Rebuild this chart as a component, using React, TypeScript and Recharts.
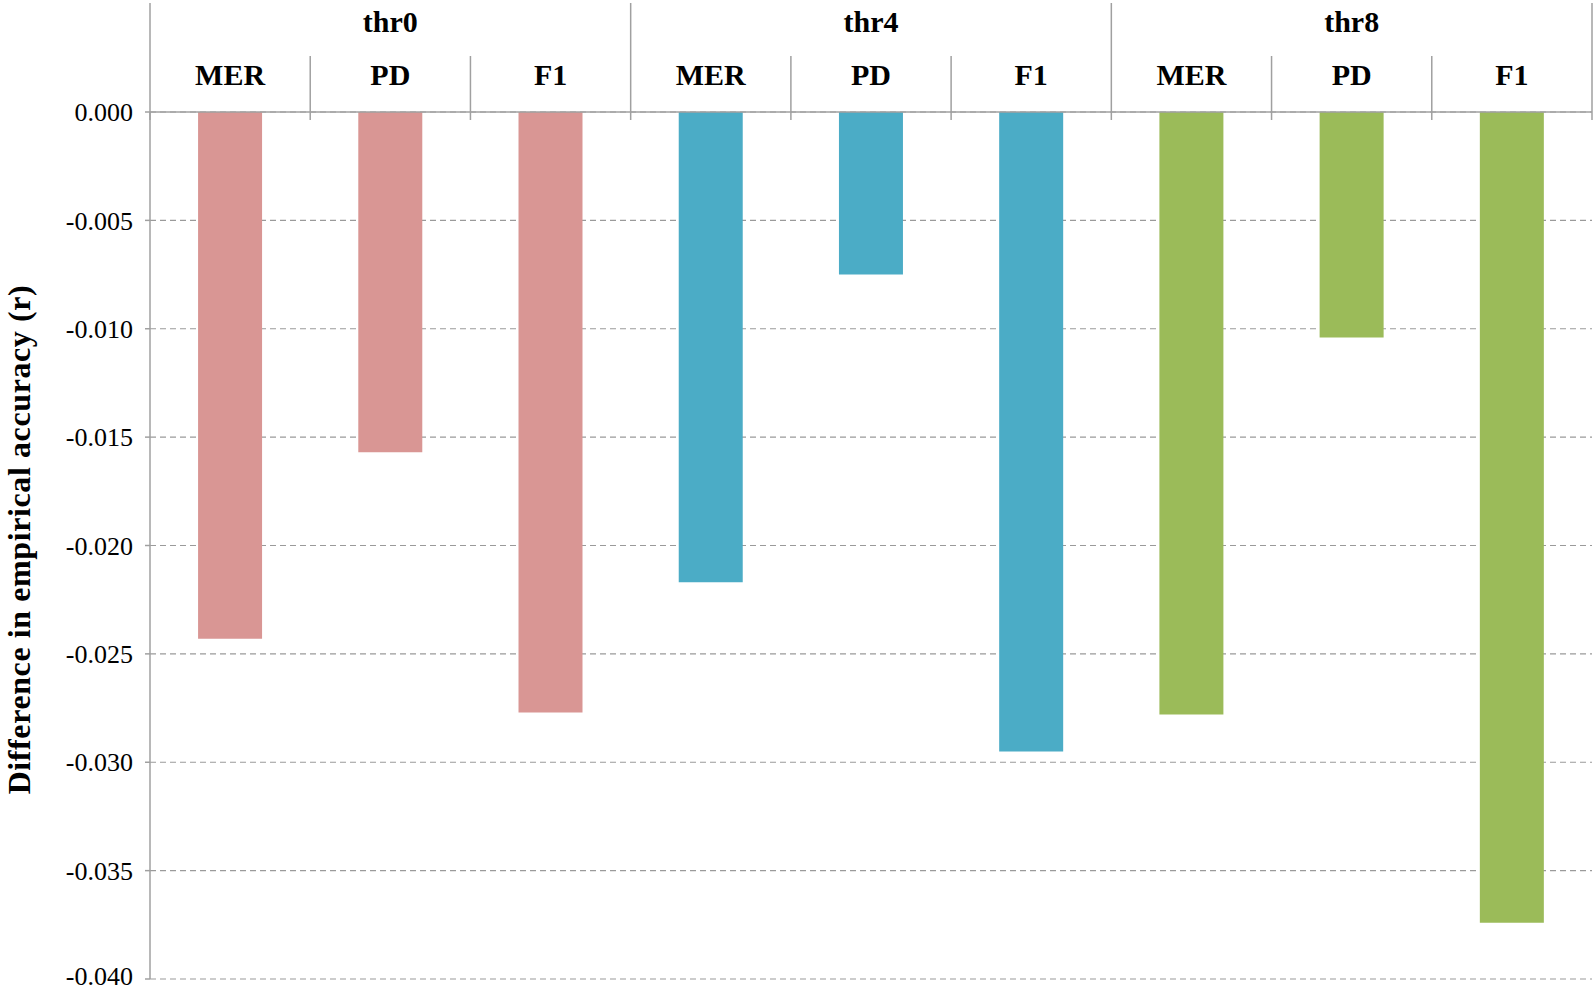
import React from 'react';
import { BarChart, Bar, XAxis, YAxis, CartesianGrid, Cell } from 'recharts';

const groups = ['thr0', 'thr4', 'thr8'];
const metrics = ['MER', 'PD', 'F1'];
const thr0Values = [-0.0243, -0.0157, -0.0277];
const thr4Values = [-0.0217, -0.0075, -0.0295];
const thr8Values = [-0.0278, -0.0104, -0.0374];
const groupColors = ['#D99694', '#4BACC6', '#9BBB59'];
const yTicks = [0, -0.005, -0.01, -0.015, -0.02, -0.025, -0.03, -0.035, -0.04];

const seriesByGroup = [thr0Values, thr4Values, thr8Values];

const data = groups.flatMap((group, g) =>
  metrics.map((metric, m) => ({
    key: `${group}-${metric}`,
    group,
    metric,
    value: seriesByGroup[g][m],
    color: groupColors[g],
  }))
);

const W = 1595;
const H = 991;
const MARGIN = { top: 3, right: 3, bottom: 12, left: 0 };
const Y_AXIS_W = 150;
const X_AXIS_H = 109;
const BAND = (W - MARGIN.left - MARGIN.right - Y_AXIS_W) / data.length;

const FONT = "'Liberation Serif', 'Times New Roman', serif";
const LINE = '#a0a0a0';

// header rows above the plot
const HEADER_TOP = 3;
const SUB_TOP = 56;
const DIV_BOTTOM = 120;
const GROUP_Y = 21;
const METRIC_Y = 74.5;

const HeaderTick = (props: any) => {
  const { x, payload } = props;
  const i = payload.index;
  const row = data[i];
  const left = x - BAND / 2;
  const right = x + BAND / 2;
  const first = i % 3 === 0;
  return (
    <g>
      <line x1={left} x2={left} y1={first ? HEADER_TOP : SUB_TOP} y2={DIV_BOTTOM} stroke={LINE} strokeWidth={1.5} />
      {i === data.length - 1 && (
        <line x1={right} x2={right} y1={HEADER_TOP} y2={DIV_BOTTOM} stroke={LINE} strokeWidth={1.5} />
      )}
      {i % 3 === 1 && (
        <text x={x} y={GROUP_Y} textAnchor="middle" dominantBaseline="central"
          fontFamily={FONT} fontWeight="bold" fontSize={30} fill="#000">
          {row.group}
        </text>
      )}
      <text x={x} y={METRIC_Y} textAnchor="middle" dominantBaseline="central"
        fontFamily={FONT} fontWeight="bold" fontSize={30} fill="#000">
        {row.metric}
      </text>
    </g>
  );
};

const AxisTitle = (props: any) => {
  const vb = props.viewBox || {};
  const cy = (vb.y || 0) + (vb.height || 0) / 2 - 6;
  const cx = 30;
  return (
    <text x={cx} y={cy} transform={`rotate(-90, ${cx}, ${cy})`} textAnchor="middle"
      fontFamily={FONT} fontWeight="bold" fontSize={32} letterSpacing={0.6} fill="#000">
      Difference in empirical  accuracy (r)
    </text>
  );
};

export default function App() {
  return (
    <div style={{ position: 'absolute', left: 0, top: 0, width: W, height: H, background: '#fff' }}>
      <BarChart width={W} height={H} data={data} margin={MARGIN} barCategoryGap="30%">
        <CartesianGrid horizontal vertical={false} stroke="#9a9a9a" strokeDasharray="6 4" strokeWidth={1.2} />
        <XAxis
          dataKey="key"
          type="category"
          orientation="top"
          height={X_AXIS_H}
          interval={0}
          axisLine={{ stroke: LINE, strokeWidth: 1.5 }}
          tickLine={false}
          tick={<HeaderTick />}
        />
        <YAxis
          type="number"
          domain={[-0.04, 0]}
          ticks={yTicks}
          width={Y_AXIS_W}
          tickFormatter={(v: number) => v.toFixed(3)}
          tick={{ fontFamily: FONT, fontSize: 26, fill: '#000' }}
          tickSize={5}
          tickMargin={12}
          tickLine={{ stroke: LINE, strokeWidth: 1.5 }}
          axisLine={{ stroke: LINE, strokeWidth: 1.5 }}
          label={<AxisTitle />}
        />
        <Bar dataKey="value" isAnimationActive={false}>
          {data.map((d) => (
            <Cell key={d.key} fill={d.color} />
          ))}
        </Bar>
      </BarChart>
    </div>
  );
}
